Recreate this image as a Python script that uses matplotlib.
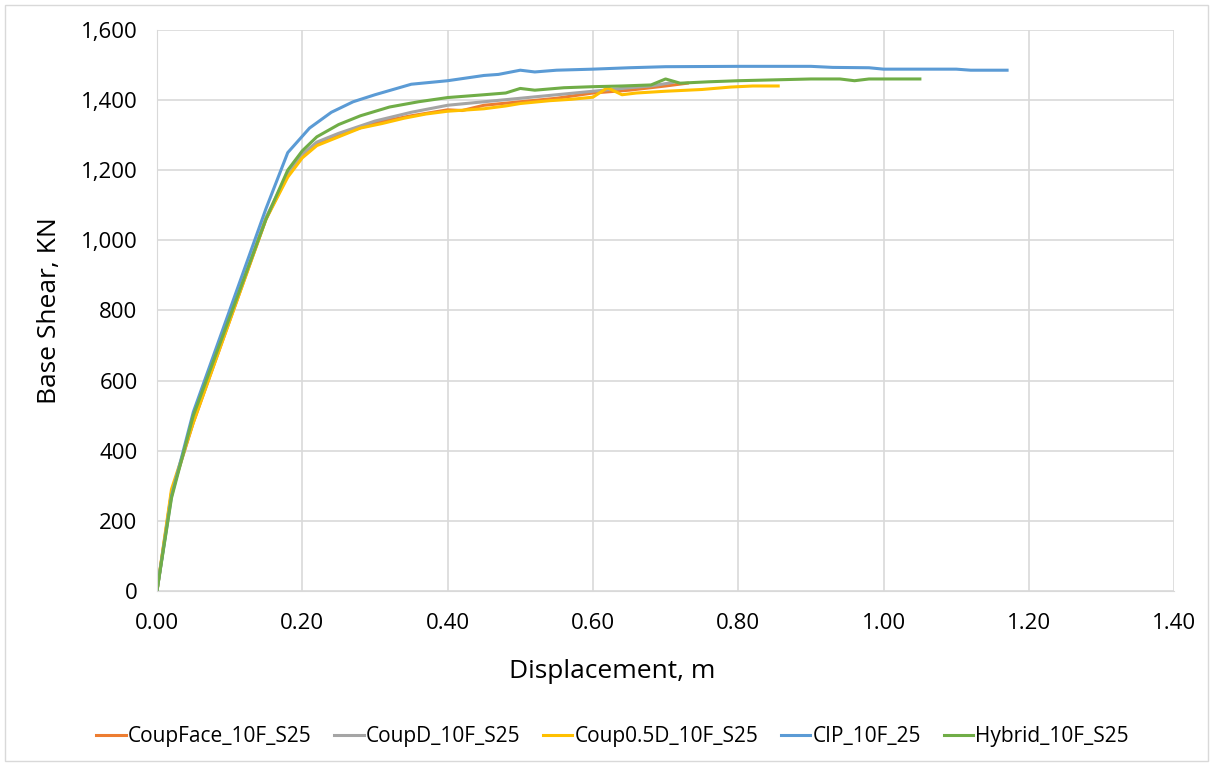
import numpy as np
import matplotlib.pyplot as plt
from matplotlib.patches import Rectangle

# series (displacement m, base shear kN)
face_x = [0, 0.02, 0.05, 0.10, 0.15, 0.18, 0.20, 0.22, 0.25, 0.30, 0.35, 0.40, 0.42, 0.45, 0.50, 0.55, 0.60, 0.65, 0.70, 0.73]
face_y = [0, 280, 480, 770, 1060, 1185, 1240, 1275, 1300, 1335, 1355, 1372, 1370, 1385, 1395, 1405, 1420, 1428, 1440, 1448]

d_x = [0, 0.02, 0.05, 0.10, 0.15, 0.18, 0.20, 0.22, 0.25, 0.30, 0.35, 0.40, 0.45, 0.50, 0.55, 0.60, 0.65, 0.68, 0.71]
d_y = [0, 280, 485, 775, 1065, 1190, 1245, 1280, 1305, 1340, 1365, 1385, 1395, 1405, 1415, 1425, 1435, 1440, 1450]

half_x = [0, 0.02, 0.05, 0.10, 0.15, 0.18, 0.20, 0.22, 0.25, 0.28, 0.31, 0.34, 0.37, 0.40, 0.45, 0.48, 0.50, 0.54, 0.57, 0.60, 0.62, 0.64, 0.66, 0.70, 0.75, 0.79, 0.82, 0.855]
half_y = [0, 290, 480, 770, 1060, 1180, 1235, 1270, 1295, 1320, 1333, 1348, 1360, 1368, 1375, 1383, 1390, 1398, 1402, 1408, 1435, 1415, 1420, 1425, 1430, 1437, 1440, 1440]

cip_x = [0, 0.02, 0.05, 0.10, 0.15, 0.18, 0.21, 0.24, 0.27, 0.30, 0.35, 0.40, 0.45, 0.47, 0.50, 0.52, 0.55, 0.60, 0.65, 0.70, 0.80, 0.90, 0.93, 0.98, 1.00, 1.05, 1.10, 1.12, 1.17]
cip_y = [0, 270, 510, 800, 1090, 1250, 1320, 1365, 1395, 1415, 1445, 1455, 1470, 1473, 1485, 1480, 1485, 1488, 1492, 1495, 1496, 1496, 1493, 1492, 1488, 1488, 1488, 1485, 1485]

hyb_x = [0, 0.02, 0.05, 0.10, 0.15, 0.18, 0.20, 0.22, 0.25, 0.28, 0.32, 0.36, 0.40, 0.45, 0.48, 0.50, 0.52, 0.56, 0.60, 0.64, 0.68, 0.70, 0.72, 0.76, 0.80, 0.86, 0.90, 0.94, 0.96, 0.98, 1.05]
hyb_y = [0, 265, 500, 780, 1060, 1200, 1255, 1295, 1330, 1355, 1380, 1395, 1407, 1415, 1420, 1433, 1428, 1435, 1438, 1440, 1443, 1460, 1448, 1452, 1455, 1458, 1460, 1460, 1455, 1460, 1460]

series = [
    ("CoupFace_10F_S25", face_x, face_y, "#ED7D31"),
    ("CoupD_10F_S25", d_x, d_y, "#A5A5A5"),
    ("Coup0.5D_10F_S25", half_x, half_y, "#FFC000"),
    ("CIP_10F_25", cip_x, cip_y, "#5B9BD5"),
    ("Hybrid_10F_S25", hyb_x, hyb_y, "#70AD47"),
]

plt.rcParams['font.family'] = ['Open Sans', 'DejaVu Sans']

fig = plt.figure(figsize=(12.13, 7.66), dpi=100)
ax = fig.add_axes([0.1294, 0.2285, 0.8386, 0.7325])

for name, x, y, c in series:
    ax.plot(x, y, color=c, lw=2.2, label=name)

ax.set_xlim(0, 1.4)
ax.set_ylim(0, 1600)
ax.set_xticks(np.arange(0, 1.41, 0.2))
ax.set_yticks(np.arange(0, 1601, 200))
ax.set_xticklabels([f"{v:.2f}" for v in np.arange(0, 1.41, 0.2)])
ax.set_yticklabels([f"{int(v):,}" for v in np.arange(0, 1601, 200)])
ax.grid(True, color="#D9D9D9", lw=1.2)
ax.set_axisbelow(True)
for s in ["top", "right"]:
    ax.spines[s].set_visible(False)
ax.spines["left"].set_color("#D9D9D9")
ax.spines["bottom"].set_color("#D9D9D9")
ax.tick_params(length=0, labelsize=16)
ax.tick_params(axis="x", pad=16)
ax.tick_params(axis="y", pad=14)

fig.text(0.505, 0.123, "Displacement, m", fontsize=19, ha="center", va="center")
fig.text(0.041, 0.595, "Base Shear, KN", fontsize=19, ha="center", va="center", rotation=90)

handles, labels = ax.get_legend_handles_labels()
fig.legend(handles, labels, loc="center", bbox_to_anchor=(0.505, 0.038), ncol=5, frameon=False,
           fontsize=15, handlelength=1.4, handletextpad=0.1, columnspacing=1.1)

fig.patches.append(Rectangle((0.004, 0.006), 0.992, 0.988, transform=fig.transFigure,
                             fill=False, edgecolor="#D9D9D9", lw=1))

plt.savefig("out.png", dpi=100)
